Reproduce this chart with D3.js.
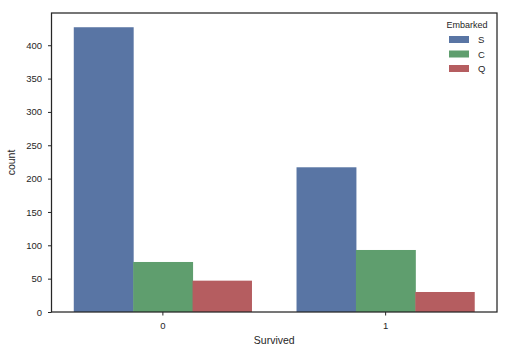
<!DOCTYPE html>
<html><head><meta charset="utf-8">
<script src="https://cdn.jsdelivr.net/npm/d3@7"></script>
<style>body{margin:0;background:#fff}svg{display:block}text{font-family:"Liberation Sans",Arial,sans-serif;fill:#262626}</style>
</head><body>
<script>
const categories = ["0", "1"];
const hues = ["S", "C", "Q"];
const valuesS = [427, 217];
const valuesC = [75, 93];
const valuesQ = [47, 30];
const colors = ["#5975a4", "#5f9e6e", "#b55d60"];
const yTicks = [0, 50, 100, 150, 200, 250, 300, 350, 400];
const series = [valuesS, valuesC, valuesQ];

const W = 510, H = 355;
const m = {left: 51.5, right: 13, top: 13, bottom: 43};
const iw = W - m.left - m.right, ih = H - m.top - m.bottom;
const svg = d3.select("body").append("svg").attr("width", W).attr("height", H);
const g = svg.append("g").attr("transform", `translate(${m.left},${m.top})`);

const x = d3.scaleBand().domain(categories).range([0, iw]).paddingInner(0.2).paddingOuter(0.1);
const xs = d3.scaleBand().domain(hues).range([0, x.bandwidth()]);
const y = d3.scaleLinear().domain([0, 448.35]).range([ih, 0]);

categories.forEach((c, i) => {
  hues.forEach((h, j) => {
    g.append("rect")
      .attr("x", x(c) + xs(h)).attr("width", xs.bandwidth() + (j < 2 ? 0.5 : 0))
      .attr("y", y(series[j][i])).attr("height", ih - y(series[j][i]))
      .attr("fill", colors[j]);
  });
});

const xAxis = g.append("g").attr("transform", `translate(0,${ih})`)
  .call(d3.axisBottom(x).tickSize(3.5).tickPadding(7));
const yAxis = g.append("g").call(d3.axisLeft(y).tickValues(yTicks).tickSize(3.5).tickPadding(6));
[xAxis, yAxis].forEach(a => {
  a.select(".domain").remove();
  a.selectAll("line").attr("stroke", "#262626").attr("stroke-width", 1);
  a.selectAll("text").style("font-size", "9.5px").attr("fill", "#262626").style("font-family", '"Liberation Sans",Arial,sans-serif');
});

g.append("rect").attr("x", 0).attr("y", 0).attr("width", iw).attr("height", ih)
  .attr("fill", "none").attr("stroke", "#262626").attr("stroke-width", 1.25);

svg.append("text").attr("x", m.left + iw / 2).attr("y", 344).attr("text-anchor", "middle")
  .style("font-size", "10.5px").text("Survived");
svg.append("text").attr("transform", `translate(15,${m.top + ih / 2}) rotate(-90)`)
  .attr("text-anchor", "middle").style("font-size", "10.5px").text("count");

const lg = svg.append("g");
lg.append("text").attr("x", 467).attr("y", 28).attr("text-anchor", "middle")
  .style("font-size", "9px").text("Embarked");
hues.forEach((h, j) => {
  const cy = 39.5 + j * 14.5;
  lg.append("rect").attr("x", 449).attr("y", cy - 3.5).attr("width", 20).attr("height", 7).attr("fill", colors[j]);
  lg.append("text").attr("x", 478).attr("y", cy + 3.5).style("font-size", "9.5px").text(h);
});
</script>
</body></html>
